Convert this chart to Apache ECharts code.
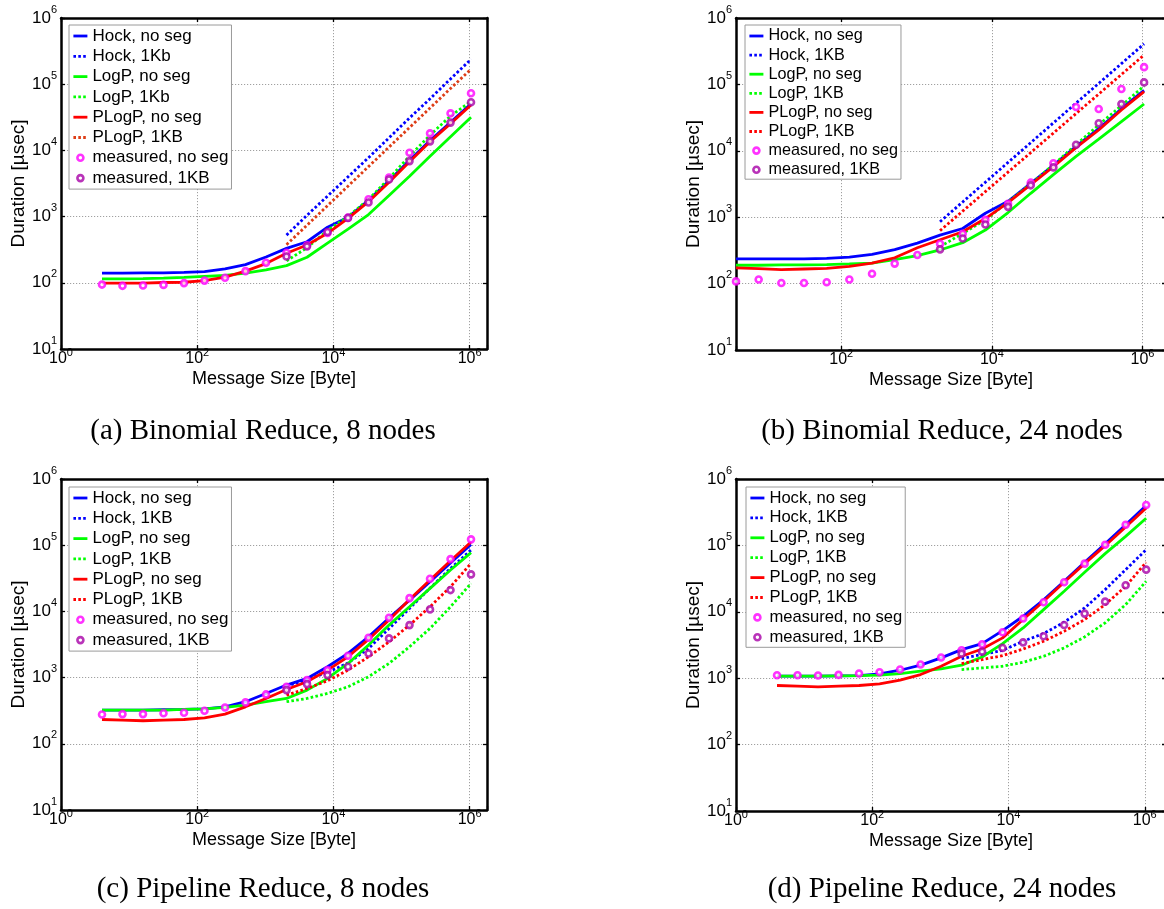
<!DOCTYPE html>
<html><head><meta charset="utf-8">
<script src="https://cdn.jsdelivr.net/npm/echarts@6/dist/echarts.min.js"></script>
<style>html,body{margin:0;padding:0;background:#fff}#c{width:1164px;height:909px}</style>
</head><body><div id="c"></div><script>
// ---------- data (message size in Byte, duration in microseconds) ----------
const sizes = [4,8,16,32,64,128,256,512,1024,2048,4096,8192,16384,32768,65536,131072,262144,524288,1048576];
const sizesSeg = [2048,4096,8192,16384,32768,65536,131072,262144,524288,1048576];

// (a) Binomial Reduce, 8 nodes
const aHockNoSeg  = [140,140,141,141,144,148,162,188,245,331,417,692,977,1758,3467,7079,14125,26607,50699];
const aHock1K     = [525,1047,2042,3981,7762,15488,30903,60256,120226,237684];
const aLogPNoSeg  = [115,115,116,118,121,125,129,140,157,182,243,398,646,1072,2089,4074,8128,16032,31623];
const aLogP1K     = [214,339,617,1000,1820,3767,8204,16982,33113,54954];
const aPLogPNoSeg = [99,99,99,101,102,108,122,150,195,279,372,560,942,1679,3311,6761,13490,25410,48530];
const aPLogP1K    = [377,741,1462,2884,5689,11220,22131,43652,86099,168655];
const aMeasNoSeg  = [94,90,91,93,99,108,119,150,201,285,368,565,966,1833,3890,9230,18100,36300,73100];
const aMeas1K     = [250,355,586,955,1630,3630,6890,13700,26300,53300];

// (b) Binomial Reduce, 24 nodes
const bHockNoSeg  = [235,235,235,236,239,251,275,324,407,537,676,1148,1738,3236,6026,11670,21530,43050,81280];
const bHock1K     = [855,1698,3365,6683,13243,26303,52240,103514,205589,407380];
const bLogPNoSeg  = [189,189,191,192,193,198,204,229,263,321,413,641,1175,2291,4365,8222,14962,27542,50699];
const bLogP1K     = [360,571,912,1698,3162,6166,12303,24547,47863,94624];
const bPLogPNoSeg = [172,168,162,166,170,182,204,245,347,457,603,955,1660,3090,5754,11143,20560,41115,77625];
const bPLogP1K    = [627,1233,2427,4775,9397,18493,36392,71614,140929,277332];
const bMeasNoSeg  = [108,115,102,102,105,115,141,200,269,398,562,912,1590,3311,6500,45700,42700,85100,182000];
const bMeas1K     = [328,479,776,1432,3020,5623,12303,26002,50466,107152];

// (c) Pipeline Reduce, 8 nodes
const cHockNoSeg  = [323,323,323,327,330,338,362,432,575,771,971,1459,2317,4140,7943,14791,28184,53703,102329];
const cHock1K     = [741,933,1202,1660,2754,5495,11092,22387,44668,84528];
const cLogPNoSeg  = [323,323,323,323,330,338,354,384,432,484,647,971,1637,3097,6209,11749,22284,42170,77090];
const cLogP1K     = [432,484,577,726,1030,1637,2924,5534,11749,26485];
const cPLogPNoSeg = [233,228,223,228,233,247,281,362,484,662,865,1297,2065,3776,7396,15136,29785,58345,111686];
const cPLogP1K    = [543,685,895,1297,2065,3467,6209,11749,23605,53088];
const cMeasNoSeg  = [277,281,281,290,294,316,354,422,557,726,916,1297,2138,4000,8017,15849,31189,61660,122462];
const cMeas1K     = [647,798,1091,1459,2317,3908,6209,10715,20989,36224];

// (d) Pipeline Reduce, 24 nodes
const dHockNoSeg  = [1072,1072,1072,1084,1096,1161,1318,1570,2023,2692,3311,5212,8570,15136,28840,55590,106170,204174,398107];
const dHock1K     = [1977,2270,2630,3606,4699,6950,11429,21577,43152,86298];
const dLogPNoSeg  = [1072,1072,1072,1084,1096,1109,1175,1274,1380,1570,2089,3311,5715,10789,20417,39355,75162,136773,257040];
const dLogP1K     = [1349,1429,1514,1738,2138,2858,4188,6808,12823,28840];
const dPLogPNoSeg = [776,759,741,759,776,822,933,1135,1514,2138,2754,4046,7638,14388,27797,53088,99083,189234,365595];
const dPLogP1K    = [1660,1905,2188,2754,3606,5093,7638,12823,24210,55590];
const dMeasNoSeg  = [1109,1109,1096,1122,1175,1230,1349,1607,2046,2636,3251,4920,7907,13900,27800,53100,102300,205100,405500];
const dMeas1K     = [2344,2512,2858,3467,4285,6339,9397,14223,25119,43152];

const captions = ['(a) Binomial Reduce, 8 nodes','(b) Binomial Reduce, 24 nodes','(c) Pipeline Reduce, 8 nodes','(d) Pipeline Reduce, 24 nodes'];
const xName = 'Message Size [Byte]';
const yName = 'Duration [\u00B5sec]';
const namesA = ['Hock, no seg','Hock, 1Kb','LogP, no seg','LogP, 1Kb','PLogP, no seg','PLogP, 1KB','measured, no seg','measured, 1KB'];
const namesB = ['Hock, no seg','Hock, 1KB','LogP, no seg','LogP, 1KB','PLogP, no seg','PLogP, 1KB','measured, no seg','measured, 1KB'];

// ---------- styling / layout ----------
const BLUE='#0000ff', GREEN='#00ff00', RED='#ff0000', ORED='#de3d16', MAG='#ff00ff', PURP='#a800a8';
const FONT='Liberation Sans';
const DOT=[2.6,2.3];

const panels = [
  {grid:{left:61, top:18, width:426, height:331}, xMin:1, xMax:1.8e6, yGap:33,
   leg:{left:69, top:25, fs:17, lh:18, gap:2.3, pad:[2,3,2,3]}, names:namesA, redDot:ORED,
   series:[aHockNoSeg,aHock1K,aLogPNoSeg,aLogP1K,aPLogPNoSeg,aPLogP1K,aMeasNoSeg,aMeas1K], cap:[263,431]},
  {grid:{left:736, top:18, width:430, height:332}, xMin:4, xMax:2.05e6, yGap:29,
   leg:{left:745, top:25, fs:16.2, lh:17, gap:2.1, pad:[2.5,3,1,3]}, names:namesB, redDot:RED,
   series:[bHockNoSeg,bHock1K,bLogPNoSeg,bLogP1K,bPLogPNoSeg,bPLogP1K,bMeasNoSeg,bMeas1K], cap:[942,431]},
  {grid:{left:61, top:479, width:426, height:331}, xMin:1, xMax:1.8e6, yGap:33,
   leg:{left:69, top:487, fs:17, lh:18, gap:2.3, pad:[2,3,2,3]}, names:namesB, redDot:RED,
   series:[cHockNoSeg,cHock1K,cLogPNoSeg,cLogP1K,cPLogPNoSeg,cPLogP1K,cMeasNoSeg,cMeas1K], cap:[263,889]},
  {grid:{left:736, top:479, width:430, height:332}, xMin:1, xMax:2.05e6, yGap:29,
   leg:{left:746, top:487, fs:16.6, lh:18, gap:1.9, pad:[2,3,1,3]}, names:namesB, redDot:RED,
   series:[dHockNoSeg,dHock1K,dLogPNoSeg,dLogP1K,dPLogPNoSeg,dPLogP1K,dMeasNoSeg,dMeas1K], cap:[942,889]}
];

function powLabel(v){
  const e = Math.log10(v), r = Math.round(e);
  if (Math.abs(e - r) > 1e-3) return '';
  return '{m|10}{s|' + r + '}';
}
const yRich = {
  m:{fontFamily:FONT, fontSize:17, lineHeight:17, color:'#000', verticalAlign:'middle'},
  s:{fontFamily:FONT, fontSize:11, lineHeight:11, color:'#000', verticalAlign:'middle', padding:[0,0,17,0]}
};
const xRich = {
  m:{fontFamily:FONT, fontSize:16, lineHeight:16, color:'#000', verticalAlign:'bottom'},
  s:{fontFamily:FONT, fontSize:11, lineHeight:11, color:'#000', verticalAlign:'bottom', padding:[0,0,9,0]}
};
const axLine = {show:true, lineStyle:{color:'#000', width:2.5}};
const axTick = {show:true, inside:true, length:4, lineStyle:{color:'#000', width:1.3}};
const gridLine = {show:true, lineStyle:{color:'#a0a0a0', width:1, type:[1.2,1.8]}};

const grids=[], xAxes=[], yAxes=[], series=[], legends=[], graphics=[];
panels.forEach((p, i) => {
  grids.push(Object.assign({containLabel:false, outerBoundsMode:'none'}, p.grid));
  xAxes.push({gridIndex:i, type:'log', logBase:100, min:p.xMin, max:p.xMax, position:'bottom',
    axisLine:axLine, axisTick:axTick, splitLine:gridLine, minorTick:{show:false},
    axisLabel:{formatter:powLabel, rich:xRich, fontFamily:FONT, fontSize:16, color:'#000', margin:2,
      showMinLabel:true, showMaxLabel:true, hideOverlap:false},
    name:xName, nameLocation:'middle', nameGap:21,
    nameTextStyle:{fontFamily:FONT, fontSize:18, color:'#000'}});
  xAxes.push({gridIndex:i, type:'log', logBase:100, min:p.xMin, max:p.xMax, position:'top',
    axisLine:axLine, axisTick:axTick, splitLine:{show:false}, axisLabel:{show:false}});
  yAxes.push({gridIndex:i, type:'log', logBase:10, min:10, max:1e6, position:'left',
    axisLine:axLine, axisTick:axTick, splitLine:gridLine, minorTick:{show:false},
    axisLabel:{formatter:powLabel, rich:yRich, fontFamily:FONT, fontSize:17, color:'#000', margin:4, hideOverlap:false},
    name:yName, nameLocation:'middle', nameGap:p.yGap, nameRotate:90,
    nameTextStyle:{fontFamily:FONT, fontSize:19, color:'#000'}});
  yAxes.push({gridIndex:i, type:'log', logBase:10, min:10, max:1e6, position:'right',
    axisLine:axLine, axisTick:axTick, splitLine:{show:false}, axisLabel:{show:false}});

  const colors = [BLUE, BLUE, GREEN, GREEN, RED, p.redDot];
  const legData = [];
  for (let k = 0; k < 6; k++) {
    const dotted = (k % 2) === 1;
    const xs = dotted ? sizesSeg : sizes;
    const ys = p.series[k];
    series.push({type:'line', name:p.names[k], xAxisIndex:2*i, yAxisIndex:2*i,
      data: xs.map((x, j) => [x, ys[j]]), symbol:'none', smooth:false, silent:true, z:2+k*0.01,
      lineStyle:{color:colors[k], width:2.8, type: dotted ? DOT : 'solid', cap:'butt'},
      itemStyle:{color:colors[k]}});
    legData.push({name:p.names[k], lineStyle:{color:colors[k], width:2.8, type: dotted ? DOT : 'solid'},
      itemStyle:{color:'rgba(0,0,0,0)', borderWidth:0, opacity:0}});
  }
  [[6, sizes, MAG], [7, sizesSeg, PURP]].forEach(([k, xs, col]) => {
    const ys = p.series[k];
    series.push({type:'scatter', name:p.names[k], xAxisIndex:2*i, yAxisIndex:2*i,
      data: xs.map((x, j) => [x, ys[j]]), symbol:'circle', symbolSize:6, silent:true, z:5,
      itemStyle:{color:'#fff', borderColor:col, borderWidth:2.6}});
    legData.push({name:p.names[k], icon:'circle', itemStyle:{color:'#fff', borderColor:col, borderWidth:2.6}});
  });
  const L = p.leg;
  legends.push({orient:'vertical', left:L.left, top:L.top, itemWidth:14, itemHeight:6, itemGap:L.gap,
    padding:L.pad, borderColor:'#9a9a9a', borderWidth:1, backgroundColor:'#fff', selectedMode:false,
    textStyle:{fontFamily:FONT, fontSize:L.fs, lineHeight:L.lh, color:'#000'}, data:legData, z:10});
  graphics.push({type:'text', x:p.cap[0], y:p.cap[1],
    style:{text:captions[i], fontFamily:'Liberation Serif', fontSize:29, fill:'#000', align:'center', verticalAlign:'middle'}});
});

const chart = echarts.init(document.getElementById('c'), null, {renderer:'canvas'});
chart.setOption({
  animation:false, backgroundColor:'#fff',
  grid:grids, xAxis:xAxes, yAxis:yAxes, series:series, legend:legends, graphic:graphics
});
</script></body></html>
